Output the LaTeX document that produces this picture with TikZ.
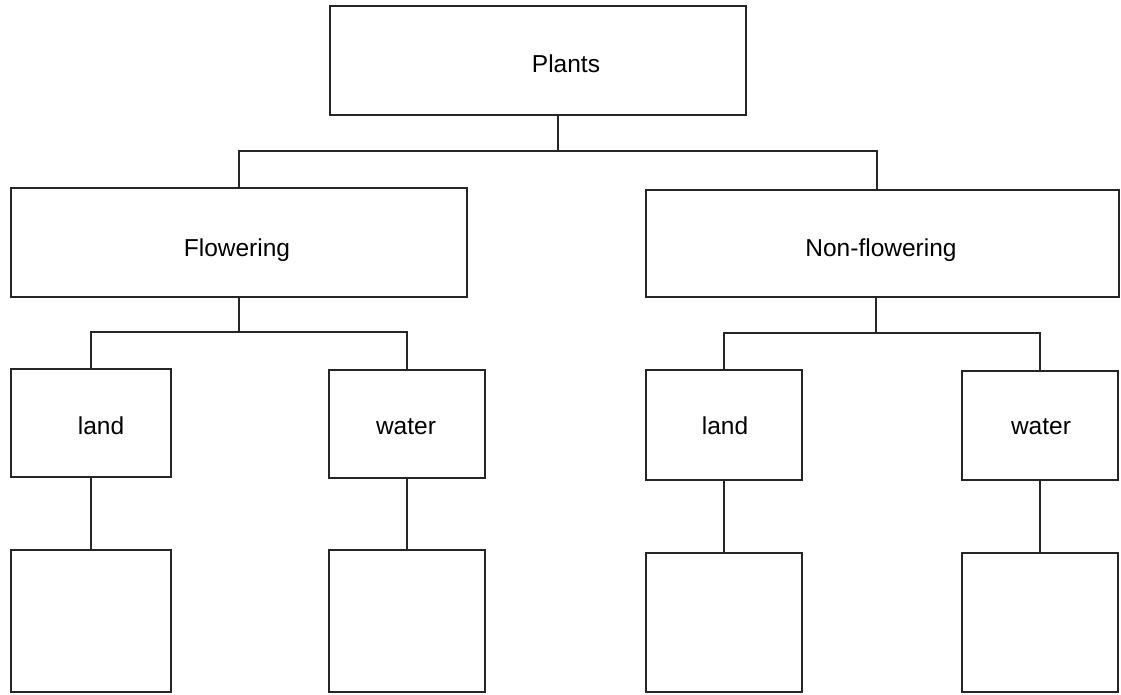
\documentclass[tikz,border=0pt]{standalone}
\usepackage{fontspec}
\setmainfont{Liberation Sans}
\begin{document}
\begin{tikzpicture}[x=1pt,y=-1pt,
  box/.style={draw=black!85, line width=1.2pt, rectangle, inner sep=0pt},
  lbl/.style={anchor=base, inner sep=0pt, font=\fontsize{24.5}{29}\selectfont},
  wire/.style={draw=black!85, line width=1.2pt}]
\useasboundingbox (0,0) rectangle (1121,694);
% boxes
\node[box, minimum width=416pt, minimum height=109pt] (plants) at (538,60.5) {};
\node[box, minimum width=456pt, minimum height=109pt] (flow) at (239,242.5) {};
\node[box, minimum width=473pt, minimum height=107pt] (nonflow) at (882.5,243.5) {};
\node[box, minimum width=160pt, minimum height=108pt] (land1) at (91,423) {};
\node[box, minimum width=156pt, minimum height=108pt] (water1) at (407,424) {};
\node[box, minimum width=156pt, minimum height=110pt] (land2) at (724,425) {};
\node[box, minimum width=156pt, minimum height=109pt] (water2) at (1040,425.5) {};
\node[box, minimum width=160pt, minimum height=142pt] (b1) at (91,621) {};
\node[box, minimum width=156pt, minimum height=142pt] (b2) at (407,621) {};
\node[box, minimum width=156pt, minimum height=139pt] (b3) at (724,622.5) {};
\node[box, minimum width=156pt, minimum height=139pt] (b4) at (1040,622.5) {};
% labels
\node[lbl] (tplants) at (566,72) {Plants};
\node[lbl] (tflow) at (237,256) {Flowering};
\node[lbl] (tnonflow) at (881,256) {Non-flowering};
\node[lbl] (tland1) at (101,434) {land};
\node[lbl] (twater1) at (406,434) {water};
\node[lbl] (tland2) at (725,434) {land};
\node[lbl] (twater2) at (1041,434) {water};
% junctions
\coordinate (j0) at (558,151);
\coordinate (j0r) at (877,151);
\coordinate (j1) at (239,332);
\coordinate (j2) at (876,333);
% connectors
\draw[wire] (j0 |- plants.south) -- (j0);
\draw[wire] (flow.north) |- (j0r) -- (j0r |- nonflow.north);
\draw[wire] (flow.south) -- (j1);
\draw[wire] (land1.north) |- (j1) -| (water1.north);
\draw[wire] (j2 |- nonflow.south) -- (j2);
\draw[wire] (land2.north) |- (j2) -| (water2.north);
\draw[wire] (land1.south) -- (b1.north);
\draw[wire] (water1.south) -- (b2.north);
\draw[wire] (land2.south) -- (b3.north);
\draw[wire] (water2.south) -- (b4.north);
\end{tikzpicture}
\end{document}
